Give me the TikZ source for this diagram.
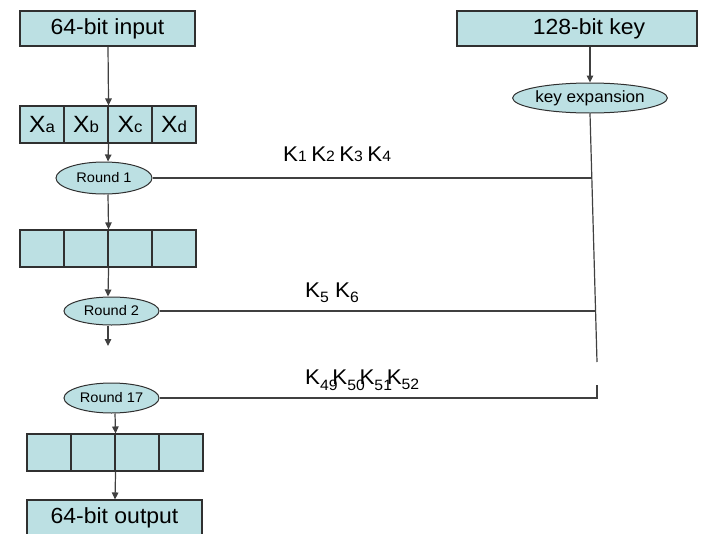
\documentclass[tikz,border=0pt]{standalone}
\usepackage{fontspec}
\setmainfont{Liberation Sans}
\usepackage{graphicx}
\usetikzlibrary{arrows.meta,shapes.geometric,calc}
\newcommand{\hs}[1]{\scalebox{1.05}[1]{#1}}
\newcommand{\kbig}{\fontsize{21.3}{24}\selectfont}
\newcommand{\ksm}{\fontsize{15}{16}\selectfont}
\newcommand{\xcell}[1]{\hs{\fontsize{23.5}{24}\selectfont X\fontsize{16}{16}\selectfont #1}}
\definecolor{boxfill}{HTML}{BCE0E3}
\definecolor{edgecol}{HTML}{303030}
\definecolor{wirecol}{HTML}{404040}
\begin{document}
\begin{tikzpicture}[x=1pt,y=-1pt,
  box/.style={draw=edgecol, line width=1.1pt, fill=boxfill, inner sep=0pt, minimum height=35pt},
  cell/.style={draw=edgecol, line width=1.1pt, fill=boxfill, inner sep=0pt, minimum height=37pt, minimum width=44pt},
  oval/.style={ellipse, draw=edgecol, line width=1pt, fill=boxfill, inner sep=0pt},
  bigtxt/.style={font=\fontsize{21.9}{24}\selectfont},
  smalltxt/.style={font=\fontsize{13.9}{15}\selectfont},
  wireline/.style={draw=wirecol, line width=1.2pt},
  arr/.style={wireline, -{Triangle[length=7pt,width=6.5pt]}},
  klabel/.style={anchor=base west, inner sep=0pt}]
\useasboundingbox (0,0) rectangle (720,533);

% input and key boxes
\node[box, bigtxt, minimum width=175pt] (in) at (107.5,28.5) {\hs{64-bit input}};
\node[box, bigtxt, minimum width=240pt] (key) at (577,28.5) {\hspace{24pt}\hs{128-bit key}};

% row 1
\node[cell] (xa) at (42,124.5) {\xcell{a}};
\node[cell] (xb) at (86,124.5) {\xcell{b}};
\node[cell] (xc) at (130,124.5) {\xcell{c}};
\node[cell] (xd) at (174,124.5) {\xcell{d}};

% row 2
\node[cell] (ya) at (42,248.5) {};
\node[cell] (yb) at (86,248.5) {};
\node[cell] (yc) at (130,248.5) {};
\node[cell] (yd) at (174,248.5) {};

% row 3
\node[cell] (za) at (49,452.5) {};
\node[cell] (zb) at (93,452.5) {};
\node[cell] (zc) at (137,452.5) {};
\node[cell] (zd) at (181,452.5) {};

% rounds
\node[oval, smalltxt, minimum width=96pt, minimum height=32pt] (r1) at (104,178) {\hs{Round 1}};
\node[oval, smalltxt, minimum width=95pt, minimum height=28pt] (r2) at (111.5,311) {\hs{Round 2}};
\node[oval, smalltxt, minimum width=95pt, minimum height=30pt] (r17) at (111.5,398) {\hs{Round 17}};
\node[oval, font=\fontsize{16.3}{17}\selectfont, minimum width=117pt, minimum height=30pt] (ke) at (590,98) {\hs{key expansion}};

% output
\node[box, bigtxt, minimum width=175pt] (out) at (114.5,517.5) {\raisebox{4.5pt}{\hs{64-bit output}}};

% column coordinates
\coordinate (c1) at (108,0);
\coordinate (c2) at (115,0);
\coordinate (cont) at (108,346);
\coordinate (kb) at (597,362);
\coordinate (k17) at (597,385);
\coordinate (j1) at (591.8,0);
\coordinate (j2) at (595.6,0);

% main column arrows
\draw[arr] (in.south -| c1) -- (xb.north east);
\draw[arr] (xb.south east) -- (r1.north -| c1);
\draw[arr] (r1.south -| c1) -- (yb.north east);
\draw[arr] (yb.south east) -- (r2.north -| c1);
\draw[arr] (r2.south -| c1) -- (cont);
\draw[arr] (r17.south -| c2) -- (zb.north east);
\draw[arr] (zb.south east) -- (out.north -| c2);

% key side
\draw[arr] (key.south -| ke) -- (ke.north);
\draw[wireline] (ke.south) -- (kb);
\draw[wireline] (r1.east) -- (r1.east -| j1);
\draw[wireline] (r2.east) -- (r2.east -| j2);
\draw[wireline] (r17.east) -- (r17.east -| k17) -- (k17);

% key labels
\node[klabel] (k14) at (283,161) {\hs{\kbig K\ksm 1 \kbig K\ksm 2 \kbig K\ksm 3 \kbig K\ksm 4}};
\node[klabel] (k56) at (305,297) {\hs{\kbig K\raisebox{-5pt}{\ksm 5} K\raisebox{-5pt}{\ksm 6}}};
\node[klabel] (k4952) at (305,384) {\hs{\kbig K\raisebox{-6pt}{\ksm 49}\kern-5pt K\raisebox{-6pt}{\ksm 50}\kern-5pt K\raisebox{-6pt}{\ksm 51}\kern-5pt K\raisebox{-5pt}{\ksm 52}}};
\end{tikzpicture}
\end{document}
